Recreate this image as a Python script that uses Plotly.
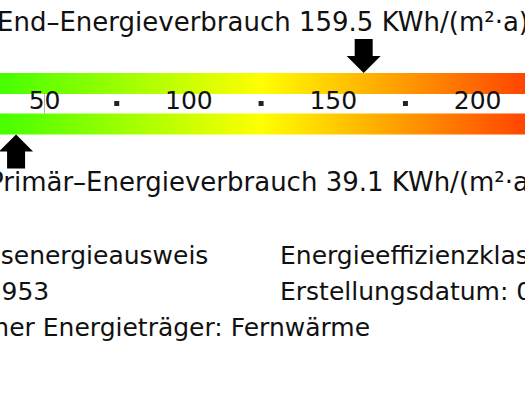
import numpy as np
import plotly.graph_objects as go

# ---------------- data ----------------
end_energy = 159.5          # End-Energieverbrauch kWh/(m²·a)
primary_energy = 39.1       # Primär-Energieverbrauch kWh/(m²·a)
scale_min, scale_max = 0, 250
label_values = [0, 50, 100, 150, 200, 250]
dot_values = [25, 75, 125, 175, 225]
marker_line_value = 50
left_lines = ["Verbrauchsenergieausweis", "Baujahr: 1953", "Wesentlicher Energieträger: Fernwärme"]
right_lines = ["Energieeffizienzklasse: E", "Erstellungsdatum: 0"]

# ---------------- layout constants (pixels) ----------------
W, H = 525, 394
PX_PER_UNIT = 2.887
PX_OFFSET = -99.8            # pixel position of value 0
x_lo = (0 - PX_OFFSET) / PX_PER_UNIT
x_hi = (W - PX_OFFSET) / PX_PER_UNIT
FONT = "DejaVu Sans"
TXT = "#111111"

fig = go.Figure()

# gradient bands
edges = np.linspace(scale_min, scale_max, 501)
centers = (edges[:-1] + edges[1:]) / 2
cscale = [[0, "#00ff00"], [0.5, "#ffff00"], [1, "#ff0000"]]
for y0, y1 in [(73, 93.5), (113.5, 134.5)]:
    fig.add_trace(go.Heatmap(x=edges, y=[y0, y1], z=[centers], colorscale=cscale,
                             zmin=scale_min, zmax=scale_max, showscale=False,
                             hoverinfo="skip"))

# tick labels
fig.add_trace(go.Scatter(x=label_values, y=[103] * len(label_values), mode="text",
                         text=[str(v) for v in label_values], textposition="middle center",
                         textfont=dict(family=FONT, size=25, color=TXT), hoverinfo="skip",
                         cliponaxis=True))
# dots between labels
fig.add_trace(go.Scatter(x=dot_values, y=[103.5] * len(dot_values), mode="markers",
                         marker=dict(symbol="square", size=5, color="#222222"),
                         hoverinfo="skip", cliponaxis=True))
# thin marker line
fig.add_trace(go.Scatter(x=[marker_line_value, marker_line_value], y=[93.5, 113.5], mode="lines",
                         line=dict(color="#b0b0b0", width=1), hoverinfo="skip"))

# arrows
def arrow(value, tip_y, direction):
    d = 1 if direction == "down" else -1
    hw, sw, hh, sl = 17, 9, 17, 17
    shift = 3
    xs_px = [0, -hw, -sw, -sw, sw, sw, hw, 0]
    ys = [tip_y, tip_y - d * hh, tip_y - d * hh, tip_y - d * (hh + sl),
          tip_y - d * (hh + sl), tip_y - d * hh, tip_y - d * hh, tip_y]
    xs = [value + (p + shift) / PX_PER_UNIT for p in xs_px]
    return go.Scatter(x=xs, y=ys, mode="lines", fill="toself", fillcolor="#000000",
                      line=dict(color="#000000", width=0), hoverinfo="skip")

fig.add_trace(arrow(end_energy, 73, "down"))
fig.add_trace(arrow(primary_energy, 134.5, "up"))

annotations = []
def text(s, px, py, size, anchor="left"):
    annotations.append(dict(text=s, x=px / W, xref="paper", y=py, yref="y",
                            xanchor=anchor, yanchor="middle", showarrow=False,
                            font=dict(family=FONT, size=size, color=TXT)))

text(f"End–Energieverbrauch {end_energy} KWh/(m²·a)", 263, 22, 26, "center")
text(f"Primär–Energieverbrauch {primary_energy} KWh/(m²·a)", 263, 182, 26, "center")
for i, s in enumerate(left_lines):
    text(s, -129, 255.5 + 36 * i, 25)
for i, s in enumerate(right_lines):
    text(s, 278, 255.5 + 36 * i, 25)

fig.update_layout(
    width=W, height=H, margin=dict(l=0, r=0, t=0, b=0),
    paper_bgcolor="white", plot_bgcolor="white", showlegend=False,
    xaxis=dict(range=[x_lo, x_hi], visible=False, fixedrange=True),
    yaxis=dict(range=[H, 0], visible=False, fixedrange=True),
    annotations=annotations,
)
fig.write_html("out.html")
